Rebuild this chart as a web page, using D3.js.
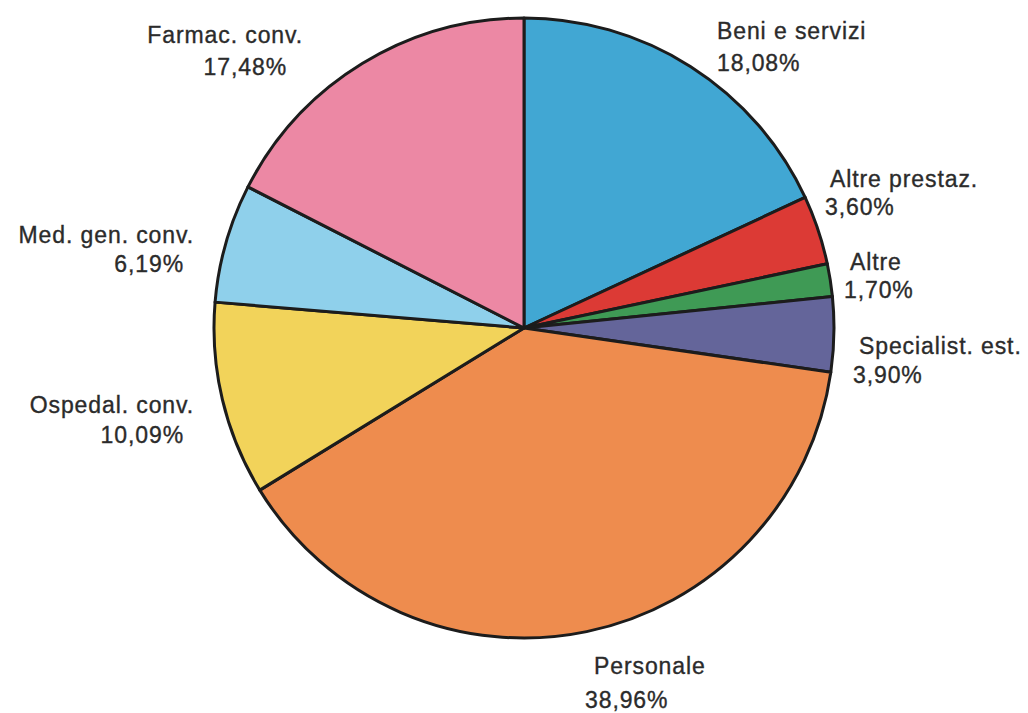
<!DOCTYPE html>
<html>
<head>
<meta charset="utf-8">
<script src="https://cdn.jsdelivr.net/npm/d3@7"></script>
<style>
  html, body { margin: 0; padding: 0; background: #ffffff; }
  svg { display: block; }
  text { font-family: "Liberation Sans", Arial, Helvetica, sans-serif; font-size: 23px; letter-spacing: 0.9px;
         fill: #2b2b2b; stroke: #2b2b2b; stroke-width: 0.35px; }
</style>
</head>
<body>
<svg id="chart" width="1028" height="713"></svg>
<script>
// Spending shares, clockwise from twelve o'clock
const categories = ["Beni e servizi", "Altre prestaz.", "Altre", "Specialist. est.",
                    "Personale", "Ospedal. conv.", "Med. gen. conv.", "Farmac. conv."];
const shares = [18.08, 3.60, 1.70, 3.90, 38.96, 10.09, 6.19, 17.48];
const sliceColors = ["#41a7d3", "#dc3a35", "#3f9a55", "#64659a",
                     "#ee8c4e", "#f2d35a", "#8fd0eb", "#ec88a4"];

// Label placement: first line and value line, with text anchor
const labelLayout = [
  { x1: 717, y1: 39,  x2: 717, y2: 71,  anchor: "start" },
  { x1: 830, y1: 187, x2: 825, y2: 215, anchor: "start" },
  { x1: 850, y1: 270, x2: 844, y2: 298, anchor: "start" },
  { x1: 859, y1: 354, x2: 853, y2: 383, anchor: "start" },
  { x1: 594, y1: 674, x2: 585, y2: 708, anchor: "start" },
  { x1: 194, y1: 413, x2: 184, y2: 443, anchor: "end" },
  { x1: 194, y1: 243, x2: 184, y2: 272, anchor: "end" },
  { x1: 303, y1: 43,  x2: 287, y2: 75,  anchor: "end" }
];

const cx = 524, cy = 328, radius = 310;
const svg = d3.select("#chart");
const fmt = v => d3.format(".2f")(v).replace(".", ",") + "%";

const pie = d3.pie().sort(null).value(d => d.value);
const arc = d3.arc().innerRadius(0).outerRadius(radius);
const data = categories.map((c, i) => ({ name: c, value: shares[i], color: sliceColors[i] }));

const g = svg.append("g").attr("transform", `translate(${cx},${cy})`);
g.selectAll("path.slice")
  .data(pie(data))
  .join("path")
  .attr("class", "slice")
  .attr("d", arc)
  .attr("fill", d => d.data.color)
  .attr("stroke", "#1c1c1c")
  .attr("stroke-width", 3)
  .attr("stroke-linejoin", "round");

const labels = svg.append("g");
data.forEach((d, i) => {
  const L = labelLayout[i];
  labels.append("text").attr("x", L.x1).attr("y", L.y1).attr("text-anchor", L.anchor).text(d.name);
  labels.append("text").attr("x", L.x2).attr("y", L.y2).attr("text-anchor", L.anchor).text(fmt(d.value));
});
</script>
</body>
</html>
